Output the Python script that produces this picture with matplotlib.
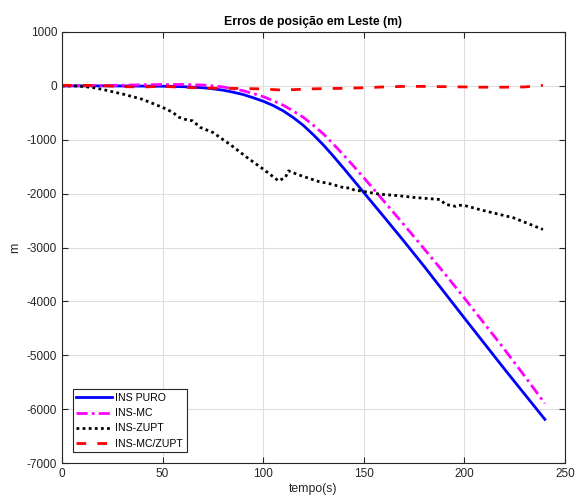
import numpy as np
import matplotlib
matplotlib.use("Agg")
import matplotlib.pyplot as plt

plt.rcParams['font.family'] = ['Liberation Sans', 'DejaVu Sans']
plt.rcParams['axes.unicode_minus'] = False

# INS PURO
t_puro = [0, 10, 20, 30, 40, 50, 55, 60, 65, 70, 75, 80, 85, 90, 95, 100, 105, 110,
          115, 120, 125, 130, 135, 140, 145, 150, 160, 170, 180, 190, 200, 210, 220,
          230, 240]
ins_puro = [0, 0, 0, -2, -4, -7, -10, -15, -24, -35, -55, -80, -117, -160, -220, -285,
            -365, -465, -590, -735, -910, -1100, -1310, -1530, -1755, -1980, -2430,
            -2885, -3350, -3830, -4310, -4785, -5260, -5725, -6190]

# INS-MC
t_mc = [0, 10, 20, 30, 40, 50, 55, 60, 65, 70, 75, 80, 85, 90, 95, 100, 105, 110,
        115, 120, 125, 130, 135, 140, 145, 150, 160, 170, 180, 190, 200, 210, 220,
        230, 240]
ins_mc = [0, 2, 5, 12, 20, 25, 25, 25, 21, 15, 0, -20, -52, -90, -142, -200, -275,
          -360, -467, -585, -735, -895, -1085, -1285, -1493, -1705, -2140, -2580,
          -3025, -3475, -3940, -4415, -4895, -5390, -5895]

# INS-ZUPT
t_zupt = [0, 5, 10, 15, 20, 30, 40, 50, 55, 58, 61, 65, 68.7, 75, 84, 92, 100,
          107.6, 111, 112.6, 117.5, 127.5, 133, 141, 142.9, 145, 150, 157.8, 167.7,
          174.8, 188, 190.6, 195.6, 197, 200, 208, 224.5, 239]
ins_zupt = [0, 0, -10, -30, -65, -150, -250, -400, -490, -580, -620, -650, -770, -865,
            -1100, -1330, -1545, -1763, -1700, -1577, -1650, -1775, -1815, -1900, -1890,
            -1930, -1960, -2010, -2040, -2070, -2110, -2200, -2235, -2215, -2220, -2300,
            -2450, -2665]

# INS-MC/ZUPT
t_mczupt = [0, 10, 20, 30, 40, 50, 60, 70, 80, 90, 98, 108, 115, 125, 140, 150, 160,
            170, 180, 190, 200, 210, 220, 230, 239]
ins_mczupt = [10, 10, 5, -15, -20, -10, -25, -40, -45, -50, -55, -75, -70, -55, -45,
              -35, -20, -10, -10, -15, -20, -25, -25, -20, 10]

fig = plt.figure(figsize=(5.75, 4.99), dpi=100)
ax = fig.add_axes([0.1078, 0.0721, 0.8748, 0.8638])

lw = 2
ax.plot(t_puro, ins_puro, color='blue', lw=lw, label='INS PURO')
ax.plot(t_mc, ins_mc, color='magenta', lw=lw, dashes=(4, 1.5, 1, 1.5), label='INS-MC')
ax.plot(t_zupt, ins_zupt, color='black', lw=lw, dashes=(1, 1.2), label='INS-ZUPT')
ax.plot(t_mczupt, ins_mczupt, color='red', lw=lw, dashes=(3.5, 4), label='INS-MC/ZUPT')

ax.set_xlim(0, 250)
ax.set_ylim(-7000, 1000)
ax.set_xticks(np.arange(0, 251, 50))
ax.set_yticks(np.arange(-7000, 1001, 1000))

gray = '#262626'
ax.grid(True, color='#dedede', lw=0.8)
ax.set_axisbelow(True)
for s in ax.spines.values():
    s.set_color(gray)
    s.set_linewidth(0.8)
ax.tick_params(direction='in', length=4, width=0.8, top=True, right=True,
               colors=gray, labelsize=8.5, labelcolor=gray)

ax.set_title('Erros de posição em Leste (m)', fontsize=8.8, fontweight='bold', pad=5)
ax.set_xlabel('tempo(s)', fontsize=8.8, color=gray, labelpad=2)
ax.set_ylabel('m', fontsize=8.8, color=gray, labelpad=4)

leg = ax.legend(loc='lower left', fontsize=7.6, handlelength=3.4, handletextpad=0.3,
                borderpad=0.35, labelspacing=0.5, borderaxespad=1.0, fancybox=False,
                framealpha=1, edgecolor=gray)
leg.get_frame().set_linewidth(0.8)

fig.savefig('out.png', dpi=100)
